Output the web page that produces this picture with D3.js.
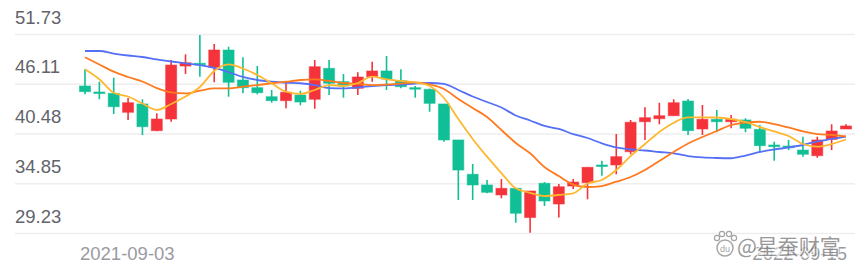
<!DOCTYPE html>
<html>
<head>
<meta charset="utf-8">
<script src="https://cdn.jsdelivr.net/npm/d3@7"></script>
<style>
body { margin: 0; background: #fff; }
svg { display: block; font-family: Arial, "Liberation Sans", sans-serif; }
</style>
</head>
<body>
<svg id="chart" width="865" height="275"></svg>
<script>
// weekly candles
var dates = ["2021-09-03","2021-09-10","2021-09-17","2021-09-24","2021-09-30","2021-10-08","2021-10-15","2021-10-22","2021-10-29","2021-11-05",
    "2021-11-12","2021-11-19","2021-11-26","2021-12-03","2021-12-10","2021-12-17","2021-12-24","2021-12-31","2022-01-07","2022-01-14",
    "2022-01-21","2022-01-28","2022-02-11","2022-02-18","2022-02-25","2022-03-04","2022-03-11","2022-03-18","2022-03-25","2022-04-01",
    "2022-04-08","2022-04-15","2022-04-22","2022-04-29","2022-05-06","2022-05-13","2022-05-20","2022-05-27","2022-06-02","2022-06-10",
    "2022-06-17","2022-06-24","2022-07-01","2022-07-08","2022-07-15","2022-07-22","2022-07-29","2022-08-05","2022-08-12","2022-08-19",
    "2022-08-26","2022-09-02","2022-09-09","2022-09-15"];
var open = [45.85,45.17,45.02,42.88,43.82,40.80,42.12,48.11,48.42,47.96,
    49.92,46.53,45.66,44.64,44.19,44.83,44.35,47.85,46.34,45.59,
    46.90,47.55,46.45,45.66,45.48,43.82,39.75,35.87,34.66,33.53,
    34.28,30.98,34.85,32.51,34.54,34.92,36.92,36.92,38.42,41.81,
    42.15,42.49,44.15,40.99,42.09,41.81,42.01,40.95,39.18,39.06,
    38.61,37.97,39.82,40.99];
var close = [45.21,45.06,43.51,43.96,41.25,42.12,48.22,48.48,48.26,49.92,
    46.27,45.66,45.09,44.19,45.14,44.04,48.03,46.16,45.85,46.87,
    47.55,46.64,45.77,45.54,43.89,39.75,36.35,34.66,33.83,34.28,
    31.46,33.98,32.85,34.46,34.99,36.66,36.80,37.86,41.75,42.27,
    42.49,43.96,40.80,42.09,41.81,42.09,41.07,39.10,38.99,38.87,
    38.13,39.75,40.76,41.33];
var high = [47.74,46.34,46.79,44.49,44.35,42.76,48.79,49.43,51.62,50.60,
    50.29,49.10,48.11,45.40,46.16,45.32,48.79,48.79,47.21,47.40,
    48.60,49.24,47.74,45.85,45.55,43.82,39.75,37.03,35.22,35.33,
    34.30,33.98,34.99,34.77,35.33,36.66,37.40,40.42,42.01,43.44,
    43.96,44.35,44.38,43.70,43.14,42.57,42.20,41.44,39.55,39.75,
    40.12,40.12,41.52,41.52];
var low = [44.91,44.35,42.68,42.01,40.31,40.75,41.81,47.21,46.90,46.27,
    44.64,45.02,44.91,43.96,43.33,43.67,43.28,44.83,44.53,44.83,
    46.34,45.40,45.59,44.53,42.94,39.55,32.96,32.96,33.72,33.15,
    30.39,29.26,32.28,30.98,34.20,33.04,35.71,35.87,38.13,39.75,
    41.52,42.49,40.31,40.31,40.62,41.07,40.62,38.31,37.40,38.61,
    37.86,37.74,38.61,40.99];
var ma5 = [47.74,46.61,45.09,44.66,43.87,43.14,43.82,44.66,45.74,47.55,
    48.30,47.83,47.09,46.16,45.21,44.95,45.40,45.96,45.85,46.19,
    46.90,46.61,46.42,46.25,45.85,44.49,42.12,39.86,37.86,36.01,
    34.28,33.78,33.41,33.53,33.72,34.83,35.22,36.35,37.93,39.29,
    40.65,41.70,42.31,42.31,42.29,42.12,41.78,41.21,40.71,40.20,
    39.29,38.99,39.29,39.80];
var ma10 = [49.10,48.28,47.47,46.87,46.36,45.62,45.12,45.02,45.32,45.59,
    45.59,45.77,45.96,46.16,46.34,46.53,46.61,46.42,46.19,46.08,
    45.96,46.02,46.13,46.25,46.02,45.51,44.38,43.36,42.34,40.88,
    39.41,38.24,36.69,35.67,34.71,34.43,34.54,35.03,35.56,36.35,
    37.37,38.39,39.35,40.08,40.76,41.44,41.72,41.81,41.55,41.16,
    40.71,40.42,40.31,40.16];
var ma20 = [49.81,49.81,49.52,49.30,49.13,48.85,48.62,48.42,48.22,47.89,
    47.43,46.87,46.53,46.34,46.22,46.16,45.96,45.62,45.59,45.68,
    45.85,45.96,46.02,46.13,46.19,46.08,45.40,44.66,44.04,43.42,
    42.52,41.95,41.33,40.99,40.42,39.97,39.37,38.90,38.67,38.56,
    38.39,38.24,37.93,37.77,37.71,37.68,37.99,38.39,38.67,38.90,
    39.18,39.58,39.86,40.14];
var yTicks = [29.23, 34.85, 40.48, 46.11, 51.73];
var xLabels = ["2021-09-03", "2022-09-15"];

var UP = "#f5333a";
var DOWN = "#10bf95";
var BODY_W = 11;

var svg = d3.select("#chart");

var x = d3.scalePoint().domain(dates).range([85, 846]);
var y = d3.scaleLinear().domain([29.23, 51.73]).range([233, 34]);

// grid + y labels
var yAxis = d3.axisRight(y).tickValues(yTicks).tickSize(840).tickFormat(d3.format(".2f"));
var gy = svg.append("g").attr("transform", "translate(15,0)").call(yAxis);
gy.select(".domain").remove();
gy.selectAll(".tick line").attr("stroke", "#eeeeee").attr("stroke-width", 1.5);
gy.selectAll(".tick text")
    .attr("x", 0).attr("y", -11).attr("dy", 0)
    .attr("text-anchor", "start")
    .attr("fill", "#62636b")
    .style("font-size", "18.5px");

// x labels, first and last only
svg.append("text").attr("x", x(dates[0]) - 5).attr("y", 260)
    .attr("text-anchor", "start").attr("fill", "#9a9aa2").style("font-size", "18.5px")
    .text(xLabels[0]);
svg.append("text").attr("x", x(dates[dates.length - 1]) + 1).attr("y", 260)
    .attr("text-anchor", "end").attr("fill", "#9a9aa2").style("font-size", "18.5px")
    .text(xLabels[1]);

// candles
var candles = dates.map(function(d, i) {
    return {date: d, o: open[i], c: close[i], h: high[i], l: low[i]};
});
var g = svg.append("g").selectAll("g").data(candles).enter().append("g");
g.append("line")
    .attr("x1", function(d) { return x(d.date); })
    .attr("x2", function(d) { return x(d.date); })
    .attr("y1", function(d) { return y(d.h); })
    .attr("y2", function(d) { return y(d.l); })
    .attr("stroke", function(d) { return d.c >= d.o ? UP : DOWN; })
    .attr("stroke-width", 1.6);
g.append("rect")
    .attr("x", function(d) { return x(d.date) - BODY_W / 2; })
    .attr("y", function(d) { return y(Math.max(d.o, d.c)); })
    .attr("width", BODY_W)
    .attr("height", function(d) { return Math.max(1.5, Math.abs(y(d.o) - y(d.c))); })
    .attr("fill", function(d) { return d.c >= d.o ? UP : DOWN; })
    .attr("stroke", function(d) { return d.c >= d.o ? UP : DOWN; })
    .attr("stroke-opacity", 0.55)
    .attr("stroke-width", 1);

// moving averages
var line = d3.line()
    .x(function(d, i) { return x(dates[i]); })
    .y(function(d) { return y(d); })
    .curve(d3.curveMonotoneX);
[[ma20, "#5670f5"], [ma10, "#ff7a1f"], [ma5, "#ffb72f"]].forEach(function(s) {
    svg.append("path").datum(s[0])
        .attr("d", line)
        .attr("fill", "none")
        .attr("stroke", s[1])
        .attr("stroke-width", 1.8);
});

// watermark
var wm = svg.append("g").attr("opacity", 0.75);
wm.append("circle").attr("cx", 725).attr("cy", 248).attr("r", 8).attr("fill", "#fff").attr("stroke", "#888").attr("stroke-width", 1.5);
[[717, 238], [722, 234], [729, 234], [734, 238]].forEach(function(p) {
    wm.append("circle").attr("cx", p[0]).attr("cy", p[1]).attr("r", 2.6).attr("fill", "#fff").attr("stroke", "#888").attr("stroke-width", 1.2);
});
wm.append("text").attr("x", 725).attr("y", 252).attr("text-anchor", "middle")
    .attr("fill", "#888").style("font-size", "9px").text("du");
wm.append("text").attr("x", 737).attr("y", 254)
    .attr("fill", "#777").attr("stroke", "#fff").attr("stroke-width", 2.5).attr("paint-order", "stroke")
    .style("font-family", "'Noto Sans CJK SC', sans-serif").style("font-size", "21px")
    .text("@星蚕财富");
</script>
</body>
</html>
